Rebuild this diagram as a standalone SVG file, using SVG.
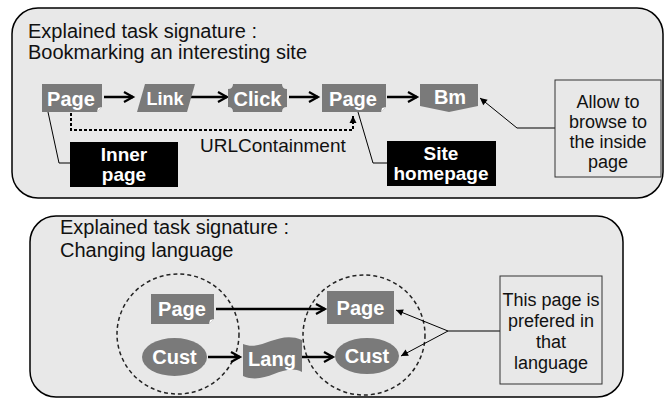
<svg xmlns="http://www.w3.org/2000/svg" width="665" height="400" viewBox="0 0 665 400">
<style>
.panel{fill:#e8e8e8;stroke:#000;stroke-width:1.5}
.title{font-family:"Liberation Sans",Arial,sans-serif;font-size:20px;fill:#111}
.node{fill:#7a7a7a}
.nt{font-family:"Liberation Sans",Arial,sans-serif;font-weight:bold;font-size:20px;fill:#fff;text-anchor:middle}
.blk{fill:#000}
.bt{font-family:"Liberation Sans",Arial,sans-serif;font-weight:bold;font-size:19px;fill:#fff;text-anchor:middle}
.note{fill:#e8e8e8;stroke:#333;stroke-width:1}
.ntx{font-family:"Liberation Sans",Arial,sans-serif;font-size:18px;fill:#111;text-anchor:middle}
.lbl{font-family:"Liberation Sans",Arial,sans-serif;font-size:19px;fill:#111}
.thick{stroke:#000;stroke-width:2.5;fill:none;marker-end:url(#chev)}
.thin{stroke:#000;stroke-width:1;fill:none}
.tharr{stroke:#000;stroke-width:1;fill:none;marker-end:url(#tri)}
.dash{stroke:#000;stroke-width:2;stroke-dasharray:3 2;fill:none;marker-end:url(#tri)}
.circ{fill:none;stroke:#222;stroke-width:1.5;stroke-dasharray:4 3}
.curl{fill:#fff}
</style>
<defs>
<marker id="chev" markerUnits="userSpaceOnUse" markerWidth="14" markerHeight="14" refX="10" refY="6" orient="auto" overflow="visible"><path d="M1,1 L10,6 L1,11" fill="none" stroke="#000" stroke-width="2.2"/></marker>
<marker id="tri" markerUnits="userSpaceOnUse" markerWidth="10" markerHeight="10" refX="7" refY="3.5" orient="auto" overflow="visible"><path d="M0,0 L7,3.5 L0,7 Z" fill="#000"/></marker>
</defs>

<g id="panel-top">
<rect class="panel" x="12" y="8" width="651" height="190" rx="26" ry="26"/>
<text class="title" x="28" y="38">Explained task signature :</text>
<text class="title" x="28" y="59">Bookmarking an interesting site</text>
</g>

<g id="panel-bottom">
<rect class="panel" x="30" y="216" width="593" height="181" rx="26" ry="26"/>
<text class="title" x="60" y="234">Explained task signature :</text>
<text class="title" x="60" y="257">Changing language</text>
</g>

<g id="circle-left"><ellipse class="circ" cx="178" cy="334" rx="61" ry="60"/></g>
<g id="circle-right"><ellipse class="circ" cx="364" cy="335" rx="61" ry="60"/></g>

<g id="connectors">
<path class="thick" d="M104,97 H133"/>
<path class="thick" d="M187,97 H227"/>
<path class="thick" d="M289,97 H318"/>
<path class="thick" d="M387,97 H417"/>
<path class="dash" d="M71,113 V130 H353 V116"/>
<path class="thin" d="M48,112 L59,163 H70"/>
<path class="thin" d="M358,112 L373,163 H387"/>
<path class="tharr" d="M555,128 H517 L480,98"/>
<path class="thick" d="M216,309 H325"/>
<path class="thick" d="M208,357 H240"/>
<path class="thick" d="M302,357 H333"/>
<path class="thin" d="M500,331 H448"/>
<path class="tharr" d="M448,331 L396,310"/>
<path class="tharr" d="M448,331 L401,356"/>
<text class="lbl" x="200" y="152">URLContainment</text>
</g>

<g id="page1">
<path class="node" d="M42,84 H102 V107 L97,112 H42 Z"/>
<path class="curl" d="M97,112 L98,108 L102,107 Z"/>
<text class="nt" x="71" y="106">Page</text>
</g>
<g id="link">
<path class="node" d="M145,84 H195 L187,112 H137 Z"/>
<text class="nt" x="165" y="105" style="font-size:18px">Link</text>
</g>
<g id="click">
<path class="node" d="M233,84 H282 Q282,89 287,89 V107 Q282,107 282,112 H233 Q233,107 228,107 V89 Q233,89 233,84 Z"/>
<text class="nt" x="257.5" y="106">Click</text>
</g>
<g id="page2">
<path class="node" d="M322,84 H386 V107 L381,112 H322 Z"/>
<path class="curl" d="M381,112 L382,108 L386,107 Z"/>
<text class="nt" x="353" y="106">Page</text>
</g>
<g id="bm">
<path class="node" d="M420,84 H478 V106 L449,112 L420,106 Z"/>
<text class="nt" x="450" y="104">Bm</text>
</g>
<g id="inner-page">
<rect class="blk" x="70" y="142" width="108" height="45"/>
<text class="bt" x="124" y="161">Inner</text>
<text class="bt" x="124" y="181">page</text>
</g>
<g id="site-homepage">
<rect class="blk" x="387" y="141" width="109" height="45"/>
<text class="bt" x="441" y="160">Site</text>
<text class="bt" x="441" y="180">homepage</text>
</g>
<g id="note-top">
<rect class="note" x="555" y="80" width="106" height="97"/>
<text class="ntx" x="608" y="108">Allow to</text>
<text class="ntx" x="608" y="128">browse to</text>
<text class="ntx" x="608" y="148">the inside</text>
<text class="ntx" x="608" y="168">page</text>
</g>

<g id="page-left">
<path class="node" d="M151,294 H214 V319 L209,324 H151 Z"/>
<path class="curl" d="M209,324 L210,320 L214,319 Z"/>
<text class="nt" x="182" y="316">Page</text>
</g>
<g id="cust-left">
<ellipse class="node" cx="174.5" cy="357" rx="32.5" ry="19"/>
<text class="nt" x="174.5" y="364">Cust</text>
</g>
<g id="lang">
<path class="node" d="M243,344 C262,352 278,330 302,340 V372 C283,362 266,386 243,376 Z"/>
<text class="nt" x="272" y="366">Lang</text>
</g>
<g id="page-right">
<rect class="node" x="327" y="291" width="67" height="33"/>
<text class="nt" x="360.5" y="315">Page</text>
</g>
<g id="cust-right">
<ellipse class="node" cx="367" cy="356" rx="32" ry="18"/>
<text class="nt" x="367" y="363">Cust</text>
</g>
<g id="note-bottom">
<rect class="note" x="500" y="276" width="102" height="108"/>
<text class="ntx" x="551" y="306">This page is</text>
<text class="ntx" x="551" y="327">prefered in</text>
<text class="ntx" x="551" y="348">that</text>
<text class="ntx" x="551" y="369">language</text>
</g>
</svg>
